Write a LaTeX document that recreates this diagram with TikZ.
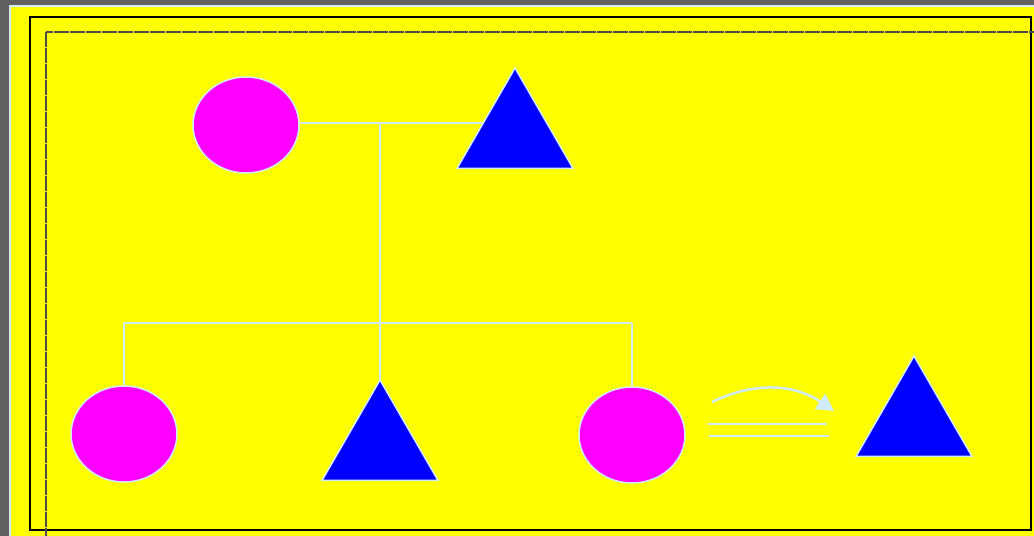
\documentclass[tikz,border=0pt]{standalone}
\usetikzlibrary{shapes.geometric,arrows.meta,backgrounds}
\definecolor{wire}{RGB}{208,236,250}
\definecolor{panel}{RGB}{255,255,0}
\definecolor{mother}{RGB}{255,0,255}
\definecolor{father}{RGB}{0,0,255}
\tikzset{
  backdrop/.style={fill=black!62},
  outerframe/.style={draw=black, line width=0.04cm},
  innerframe/.style={draw=black!70, line width=0.022cm, dash pattern=on 0.3cm off 0.02cm},
  female/.style={ellipse, fill=mother, draw=wire, line width=0.03cm, minimum width=2.12cm, minimum height=1.92cm, inner sep=0pt},
  male/.style={regular polygon, regular polygon sides=3, fill=father, draw=wire, line width=0.03cm, minimum size=2.68cm, inner sep=0pt},
  kin/.style={draw=wire, line width=0.04cm},
  becomes/.style={draw=wire, line width=0.05cm, -{Triangle[length=0.34cm,width=0.36cm]}},
}
\begin{document}
\begin{tikzpicture}[x=0.02cm,y=-0.02cm]
\useasboundingbox (0,0) rectangle (1034,536);
\node[female] (grandma) at (246,125) {};
\node[male] (grandpa) at (515,135) {};
\node[female] (daughter) at (124,434) {};
\node[male] (son) at (380,447) {};
\node[female] (youngest) at (632,435) {};
\node[male] (changed) at (914,423) {};
\coordinate (marriage) at (380,123);
\coordinate (sibline) at (380,323);
\coordinate (arcstart) at (712,402);
\coordinate (arcend) at (834,411);
\coordinate (eqa) at (708,424);
\coordinate (eqb) at (827,424);
\coordinate (eqc) at (709,436);
\coordinate (eqd) at (829,436);
\begin{scope}[on background layer]
\fill[backdrop] (0,0) rectangle (1034,536);
\fill[panel] (10,6) rectangle (1034,536);
\draw[wire, line width=0.03cm] (10,536) -- (10,6) -- (1034,6);
\draw[outerframe] (30,17) rectangle (1031,530);
\draw[innerframe] (46,32) rectangle (1045,548);
\draw[kin] (marriage -| grandma.east) -- (marriage -| grandpa.center);
\draw[kin] (marriage) -- (sibline);
\draw[kin] (sibline -| daughter) -- (sibline -| youngest);
\draw[kin] (sibline -| daughter) -- (daughter.north);
\draw[kin] (sibline) -- (son.corner 1);
\draw[kin] (sibline -| youngest) -- (youngest.north);
\end{scope}
\draw[becomes] (arcstart) to[bend left=30] (arcend);
\draw[kin] (eqa) -- (eqb);
\draw[kin] (eqc) -- (eqd);
\end{tikzpicture}
\end{document}
